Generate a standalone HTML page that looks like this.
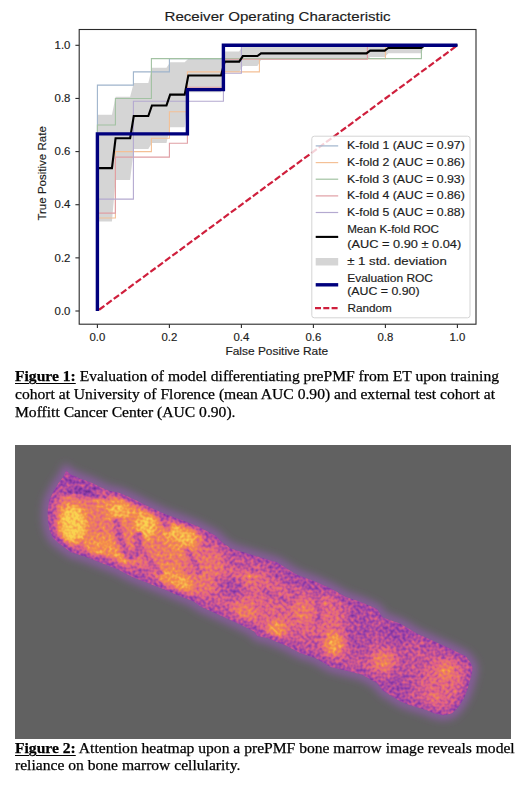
<!DOCTYPE html>
<html><head><meta charset="utf-8">
<style>
html,body{margin:0;padding:0;background:#fff;}
body{width:520px;height:785px;position:relative;overflow:hidden;}
.t{font-family:"Liberation Sans",sans-serif;font-size:10.2px;fill:#1c1c1c;stroke:#1c1c1c;stroke-width:0.15px;}
.cap{position:absolute;left:15px;font-family:"Liberation Serif",serif;font-size:14.5px;color:#000;white-space:nowrap;line-height:1;transform:scaleX(1.075);-webkit-text-stroke:0.25px #000;transform-origin:0 0;}
.cap b{text-decoration:underline;text-decoration-thickness:1px;text-underline-offset:2px;}
#hm{position:absolute;left:15px;top:445.3px;width:496px;height:293.4px;background:#616161;overflow:hidden;}
</style></head><body>
<svg width="520" height="365" style="position:absolute;left:0;top:0">
<polygon points="97.40,114.76 101.04,114.76 104.67,114.76 108.31,114.76 111.95,114.76 115.58,96.71 119.22,96.71 122.85,96.71 126.49,96.71 130.13,96.71 133.76,83.09 137.40,83.09 141.04,83.09 144.67,83.09 148.31,83.09 151.95,67.76 155.58,67.76 159.22,67.76 162.85,67.76 166.49,67.76 170.13,62.13 173.76,62.13 177.40,62.13 181.04,62.13 184.67,62.13 188.31,58.86 191.95,58.86 195.58,58.86 199.22,58.86 202.85,58.86 206.49,58.86 210.13,58.86 213.76,58.86 217.40,58.86 221.04,58.86 224.67,51.45 228.31,51.45 231.95,51.45 235.58,51.45 239.22,51.45 242.85,46.09 246.49,46.09 250.13,46.09 253.76,46.09 257.40,46.09 261.04,46.78 264.67,46.78 268.31,46.78 271.95,46.78 275.58,46.78 279.22,46.78 282.85,46.78 286.49,46.78 290.13,46.78 293.76,46.78 297.40,46.78 301.04,46.78 304.67,46.78 308.31,46.78 311.95,46.78 315.58,46.78 319.22,46.78 322.85,46.78 326.49,46.78 330.13,46.78 333.76,46.78 337.40,46.78 341.04,46.78 344.67,46.78 348.31,46.78 351.95,46.78 355.58,46.78 359.22,46.78 362.85,46.78 366.49,46.78 370.13,45.30 373.76,45.30 377.40,45.30 381.04,45.30 384.67,45.30 388.31,45.30 391.95,45.30 395.58,45.30 399.22,45.30 402.85,45.30 406.49,45.30 410.13,45.30 413.76,45.30 417.40,45.30 421.04,45.30 424.67,45.30 428.31,45.30 431.95,45.30 435.58,45.30 439.22,45.30 442.85,45.30 446.49,45.30 450.13,45.30 453.76,45.30 457.40,45.30 457.40,45.30 453.76,45.30 450.13,45.30 446.49,45.30 442.85,45.30 439.22,45.30 435.58,45.30 431.95,45.30 428.31,45.30 424.67,45.30 421.04,53.27 417.40,53.27 413.76,53.27 410.13,53.27 406.49,53.27 402.85,53.27 399.22,53.27 395.58,53.27 391.95,53.27 388.31,53.27 384.67,57.12 381.04,57.12 377.40,57.12 373.76,57.12 370.13,57.12 366.49,60.04 362.85,60.04 359.22,60.04 355.58,60.04 351.95,60.04 348.31,60.04 344.67,60.04 341.04,60.04 337.40,60.04 333.76,60.04 330.13,60.04 326.49,60.04 322.85,60.04 319.22,60.04 315.58,60.04 311.95,60.04 308.31,60.04 304.67,60.04 301.04,60.04 297.40,60.04 293.76,60.04 290.13,60.04 286.49,60.04 282.85,60.04 279.22,60.04 275.58,60.04 271.95,60.04 268.31,60.04 264.67,60.04 261.04,60.04 257.40,66.05 253.76,66.05 250.13,66.05 246.49,66.05 242.85,66.05 239.22,71.88 235.58,71.88 231.95,71.88 228.31,71.88 224.67,71.88 221.04,92.15 217.40,92.15 213.76,92.15 210.13,92.15 206.49,92.15 202.85,92.15 199.22,92.15 195.58,92.15 191.95,92.15 188.31,92.15 184.67,127.20 181.04,127.20 177.40,127.20 173.76,127.20 170.13,127.20 166.49,143.10 162.85,143.10 159.22,143.10 155.58,143.10 151.95,143.10 148.31,149.03 144.67,149.03 141.04,149.03 137.40,149.03 133.76,149.03 130.13,179.88 126.49,179.88 122.85,179.88 119.22,179.88 115.58,179.88 111.95,221.40 108.31,221.40 104.67,221.40 101.04,221.40 97.40,221.40" fill="#d5d5d5"/>
<polyline points="97.40,311.00 97.40,85.16 133.40,85.16 133.40,71.87 169.40,71.87 169.40,58.59 223.40,58.59 223.40,45.30 457.40,45.30" fill="none" stroke="#9fb4cc" stroke-width="1.1"/>
<polyline points="97.40,311.00 97.40,218.00 115.40,218.00 115.40,151.58 151.40,151.58 151.40,138.29 169.40,138.29 169.40,111.73 187.40,111.73 187.40,71.87 259.40,71.87 259.40,58.59 385.40,58.59 385.40,45.30 457.40,45.30" fill="none" stroke="#f4c096" stroke-width="1.1"/>
<polyline points="97.40,311.00 97.40,125.01 115.40,125.01 115.40,98.44 151.40,98.44 151.40,58.59 421.40,58.59 421.40,45.30 457.40,45.30" fill="none" stroke="#a2c2a2" stroke-width="1.1"/>
<polyline points="97.40,311.00 97.40,213.11 115.40,213.11 115.40,157.17 169.40,157.17 169.40,143.19 187.40,143.19 187.40,87.25 223.40,87.25 223.40,59.28 367.40,59.28 367.40,45.30 457.40,45.30" fill="none" stroke="#e09ea4" stroke-width="1.1"/>
<polyline points="97.40,311.00 97.40,199.13 133.40,199.13 133.40,101.24 223.40,101.24 223.40,73.27 241.40,73.27 241.40,45.30 457.40,45.30" fill="none" stroke="#b4a9d0" stroke-width="1.1"/>
<line x1="97.4" y1="311.0" x2="457.4" y2="45.30000000000001" stroke="#cf1f3c" stroke-width="2.2" stroke-dasharray="6.6 2.5" stroke-dashoffset="7.0"/>
<polyline points="97.40,168.08 101.04,168.08 104.67,168.08 108.31,168.08 111.95,168.08 115.58,138.29 119.22,138.29 122.85,138.29 126.49,138.29 130.13,138.29 133.76,116.06 137.40,116.06 141.04,116.06 144.67,116.06 148.31,116.06 151.95,105.43 155.58,105.43 159.22,105.43 162.85,105.43 166.49,105.43 170.13,94.66 173.76,94.66 177.40,94.66 181.04,94.66 184.67,94.66 188.31,75.51 191.95,75.51 195.58,75.51 199.22,75.51 202.85,75.51 206.49,75.51 210.13,75.51 213.76,75.51 217.40,75.51 221.04,75.51 224.67,61.66 228.31,61.66 231.95,61.66 235.58,61.66 239.22,61.66 242.85,56.07 246.49,56.07 250.13,56.07 253.76,56.07 257.40,56.07 261.04,53.41 264.67,53.41 268.31,53.41 271.95,53.41 275.58,53.41 279.22,53.41 282.85,53.41 286.49,53.41 290.13,53.41 293.76,53.41 297.40,53.41 301.04,53.41 304.67,53.41 308.31,53.41 311.95,53.41 315.58,53.41 319.22,53.41 322.85,53.41 326.49,53.41 330.13,53.41 333.76,53.41 337.40,53.41 341.04,53.41 344.67,53.41 348.31,53.41 351.95,53.41 355.58,53.41 359.22,53.41 362.85,53.41 366.49,53.41 370.13,50.61 373.76,50.61 377.40,50.61 381.04,50.61 384.67,50.61 388.31,47.96 391.95,47.96 395.58,47.96 399.22,47.96 402.85,47.96 406.49,47.96 410.13,47.96 413.76,47.96 417.40,47.96 421.04,47.96 424.67,45.30 428.31,45.30 431.95,45.30 435.58,45.30 439.22,45.30 442.85,45.30 446.49,45.30 450.13,45.30 453.76,45.30 457.40,45.30" fill="none" stroke="#000" stroke-width="2.1" stroke-linejoin="miter"/>
<polyline points="97.40,311.00 97.40,133.87 187.40,133.87 187.40,89.58 223.40,89.58 223.40,45.30 457.40,45.30" fill="none" stroke="#00007d" stroke-width="3.4" stroke-linejoin="miter"/>
<rect x="79.2" y="29.5" width="396.8" height="294.7" fill="none" stroke="#2a2a2a" stroke-width="1.1"/>
<line x1="75.4" y1="311.00" x2="79.2" y2="311.00" stroke="#2a2a2a" stroke-width="1.1"/>
<line x1="97.40" y1="324.2" x2="97.40" y2="328.0" stroke="#2a2a2a" stroke-width="1.1"/>
<text x="54.60" y="314.70" textLength="15.8" lengthAdjust="spacingAndGlyphs" class="t">0.0</text>
<text x="89.50" y="340.80" textLength="15.8" lengthAdjust="spacingAndGlyphs" class="t">0.0</text>
<line x1="75.4" y1="257.86" x2="79.2" y2="257.86" stroke="#2a2a2a" stroke-width="1.1"/>
<line x1="169.40" y1="324.2" x2="169.40" y2="328.0" stroke="#2a2a2a" stroke-width="1.1"/>
<text x="54.60" y="261.56" textLength="15.8" lengthAdjust="spacingAndGlyphs" class="t">0.2</text>
<text x="161.50" y="340.80" textLength="15.8" lengthAdjust="spacingAndGlyphs" class="t">0.2</text>
<line x1="75.4" y1="204.72" x2="79.2" y2="204.72" stroke="#2a2a2a" stroke-width="1.1"/>
<line x1="241.40" y1="324.2" x2="241.40" y2="328.0" stroke="#2a2a2a" stroke-width="1.1"/>
<text x="54.60" y="208.42" textLength="15.8" lengthAdjust="spacingAndGlyphs" class="t">0.4</text>
<text x="233.50" y="340.80" textLength="15.8" lengthAdjust="spacingAndGlyphs" class="t">0.4</text>
<line x1="75.4" y1="151.58" x2="79.2" y2="151.58" stroke="#2a2a2a" stroke-width="1.1"/>
<line x1="313.40" y1="324.2" x2="313.40" y2="328.0" stroke="#2a2a2a" stroke-width="1.1"/>
<text x="54.60" y="155.28" textLength="15.8" lengthAdjust="spacingAndGlyphs" class="t">0.6</text>
<text x="305.50" y="340.80" textLength="15.8" lengthAdjust="spacingAndGlyphs" class="t">0.6</text>
<line x1="75.4" y1="98.44" x2="79.2" y2="98.44" stroke="#2a2a2a" stroke-width="1.1"/>
<line x1="385.40" y1="324.2" x2="385.40" y2="328.0" stroke="#2a2a2a" stroke-width="1.1"/>
<text x="54.60" y="102.14" textLength="15.8" lengthAdjust="spacingAndGlyphs" class="t">0.8</text>
<text x="377.50" y="340.80" textLength="15.8" lengthAdjust="spacingAndGlyphs" class="t">0.8</text>
<line x1="75.4" y1="45.30" x2="79.2" y2="45.30" stroke="#2a2a2a" stroke-width="1.1"/>
<line x1="457.40" y1="324.2" x2="457.40" y2="328.0" stroke="#2a2a2a" stroke-width="1.1"/>
<text x="54.60" y="49.00" textLength="15.8" lengthAdjust="spacingAndGlyphs" class="t">1.0</text>
<text x="449.50" y="340.80" textLength="15.8" lengthAdjust="spacingAndGlyphs" class="t">1.0</text>
<rect x="311.8" y="136.2" width="158.2" height="181.60000000000002" rx="2.5" fill="#fff" fill-opacity="0.8" stroke="#d4d4d4" stroke-width="1"/>
<line x1="315.7" y1="145.9" x2="338.2" y2="145.9" stroke="#9fb4cc" stroke-width="1.2"/>
<text x="347.0" y="149.3" textLength="117.8" lengthAdjust="spacingAndGlyphs" class="t">K-fold 1 (AUC = 0.97)</text>
<line x1="315.7" y1="162.6" x2="338.2" y2="162.6" stroke="#f4c096" stroke-width="1.2"/>
<text x="347.0" y="166.0" textLength="117.8" lengthAdjust="spacingAndGlyphs" class="t">K-fold 2 (AUC = 0.86)</text>
<line x1="315.7" y1="179.2" x2="338.2" y2="179.2" stroke="#a2c2a2" stroke-width="1.2"/>
<text x="347.0" y="182.7" textLength="117.8" lengthAdjust="spacingAndGlyphs" class="t">K-fold 3 (AUC = 0.93)</text>
<line x1="315.7" y1="195.9" x2="338.2" y2="195.9" stroke="#e09ea4" stroke-width="1.2"/>
<text x="347.0" y="199.4" textLength="117.8" lengthAdjust="spacingAndGlyphs" class="t">K-fold 4 (AUC = 0.86)</text>
<line x1="315.7" y1="212.5" x2="338.2" y2="212.5" stroke="#b4a9d0" stroke-width="1.2"/>
<text x="347.0" y="216.1" textLength="117.8" lengthAdjust="spacingAndGlyphs" class="t">K-fold 5 (AUC = 0.88)</text>
<line x1="315.7" y1="236.9" x2="338.2" y2="236.9" stroke="#000" stroke-width="2.1"/>
<text x="347.2" y="232.5" textLength="91.8" lengthAdjust="spacingAndGlyphs" class="t">Mean K-fold ROC</text>
<text x="347.2" y="247.7" textLength="114" lengthAdjust="spacingAndGlyphs" class="t">(AUC = 0.90 ± 0.04)</text>
<rect x="315.7" y="258" width="22.5" height="7.5" fill="#d5d5d5"/>
<text x="347.2" y="265.4" textLength="99.6" lengthAdjust="spacingAndGlyphs" class="t">± 1 std. deviation</text>
<line x1="315.7" y1="284.8" x2="338.2" y2="284.8" stroke="#00007d" stroke-width="3.4"/>
<text x="347.2" y="282.4" textLength="85.8" lengthAdjust="spacingAndGlyphs" class="t">Evaluation ROC</text>
<text x="347.2" y="294.5" textLength="72.3" lengthAdjust="spacingAndGlyphs" class="t">(AUC = 0.90)</text>
<line x1="315.0" y1="308.1" x2="337.6" y2="308.1" stroke="#cf1f3c" stroke-width="2.2" stroke-dasharray="6.0 2.3"/>
<text x="347.6" y="311.8" textLength="44.3" lengthAdjust="spacingAndGlyphs" class="t">Random</text>
<text x="164.6" y="21.3" textLength="226" lengthAdjust="spacingAndGlyphs" class="t" style="font-size:12.4px">Receiver Operating Characteristic</text>
<text x="225.4" y="355.3" textLength="102.8" lengthAdjust="spacingAndGlyphs" class="t">False Positive Rate</text>
<text transform="translate(46,220.6) rotate(-90)" x="0" y="0" textLength="94.4" lengthAdjust="spacingAndGlyphs" class="t">True Positive Rate</text>
</svg>
<div class="cap" id="c1" style="top:369.3px"><b>Figure 1:</b> Evaluation of model differentiating prePMF from ET upon training</div>
<div class="cap" id="c2" style="top:386.9px">cohort at University of Florence (mean AUC 0.90) and external test cohort at</div>
<div class="cap" id="c3" style="top:405.2px">Moffitt Cancer Center (AUC 0.90).</div>
<div id="hm">
<svg width="497" height="293">
<defs>
<filter id="glow" x="-20%" y="-20%" width="140%" height="140%"><feGaussianBlur stdDeviation="4"/></filter>
<filter id="bl" x="-50%" y="-50%" width="200%" height="200%"><feGaussianBlur stdDeviation="3.5"/></filter>
<filter id="glow2" x="-20%" y="-20%" width="140%" height="140%"><feGaussianBlur stdDeviation="2.2"/></filter>
<filter id="glow3" x="-20%" y="-20%" width="140%" height="140%"><feGaussianBlur stdDeviation="1.6"/></filter>
<filter id="noise" x="0" y="0" width="100%" height="100%">
<feTurbulence type="fractalNoise" baseFrequency="0.55" numOctaves="2" seed="3"/>
<feColorMatrix type="matrix" values="0 0 0 0 1  0 0 0 0 0.85  0 0 0 0 0.6  0 0 0 -1.6 1.05"/>
</filter>
<filter id="heat" color-interpolation-filters="sRGB" filterUnits="userSpaceOnUse" x="0" y="0" width="497" height="293">
<feTurbulence type="fractalNoise" baseFrequency="0.33" numOctaves="1" seed="7" result="n"/>
<feColorMatrix in="n" type="matrix" values="1 0 0 0 0  1 0 0 0 0  1 0 0 0 0  0 0 0 0 1" result="ng"/>
<feComposite in="SourceGraphic" in2="ng" operator="arithmetic" k1="0" k2="1" k3="0.62" k4="-0.28" result="sum0"/>
<feGaussianBlur in="sum0" stdDeviation="0.5" result="sum"/>
<feComponentTransfer in="sum">
<feFuncR type="table" tableValues="0.38 0.59 0.88 0.96 0.98"/>
<feFuncG type="table" tableValues="0.16 0.25 0.38 0.56 0.83"/>
<feFuncB type="table" tableValues="0.55 0.67 0.53 0.29 0.31"/>
<feFuncA type="linear" slope="0" intercept="1"/>
</feComponentTransfer>
</filter>
<clipPath id="cp"><polygon points="51.2,25.8 55.8,29.6 65.0,33.5 77.3,38.0 86.5,42.7 94.2,45.8 105.0,48.0 120.4,55.0 135.8,62.7 151.2,69.6 166.5,75.0 182.0,81.0 200.4,90.4 208.0,98.0 215.8,103.5 231.0,108.0 246.5,112.7 262.0,117.3 279.0,128.0 285.0,131.0 300.4,136.5 315.8,143.5 331.0,152.0 346.5,157.3 362.0,164.0 367.7,172.4 385.0,178.5 402.3,188.8 419.6,196.6 436.9,204.4 450.7,211.3 456.0,218.3 457.7,223.4 456.0,232.0 452.5,244.2 449.0,252.9 443.8,261.5 437.0,268.4 428.3,270.2 419.6,268.4 411.0,265.0 402.3,262.4 393.7,259.8 385.0,256.3 367.7,245.4 362.0,238.0 346.5,229.6 331.0,225.8 315.8,222.0 300.4,213.0 285.0,208.0 271.5,200.8 262.0,197.0 252.3,193.0 242.7,191.2 238.8,186.3 223.5,178.7 204.2,170.0 185.0,161.3 178.8,156.5 163.5,150.4 148.0,144.0 132.7,138.0 117.3,132.0 102.0,124.0 86.5,118.0 71.0,112.0 55.8,107.3 43.5,98.0 38.0,93.0 34.5,85.0 32.7,75.0 32.7,65.8 34.2,55.0 38.8,45.8 43.5,38.0 48.0,32.0"/></clipPath>
</defs>
<polygon points="51.2,25.8 55.8,29.6 65.0,33.5 77.3,38.0 86.5,42.7 94.2,45.8 105.0,48.0 120.4,55.0 135.8,62.7 151.2,69.6 166.5,75.0 182.0,81.0 200.4,90.4 208.0,98.0 215.8,103.5 231.0,108.0 246.5,112.7 262.0,117.3 279.0,128.0 285.0,131.0 300.4,136.5 315.8,143.5 331.0,152.0 346.5,157.3 362.0,164.0 367.7,172.4 385.0,178.5 402.3,188.8 419.6,196.6 436.9,204.4 450.7,211.3 456.0,218.3 457.7,223.4 456.0,232.0 452.5,244.2 449.0,252.9 443.8,261.5 437.0,268.4 428.3,270.2 419.6,268.4 411.0,265.0 402.3,262.4 393.7,259.8 385.0,256.3 367.7,245.4 362.0,238.0 346.5,229.6 331.0,225.8 315.8,222.0 300.4,213.0 285.0,208.0 271.5,200.8 262.0,197.0 252.3,193.0 242.7,191.2 238.8,186.3 223.5,178.7 204.2,170.0 185.0,161.3 178.8,156.5 163.5,150.4 148.0,144.0 132.7,138.0 117.3,132.0 102.0,124.0 86.5,118.0 71.0,112.0 55.8,107.3 43.5,98.0 38.0,93.0 34.5,85.0 32.7,75.0 32.7,65.8 34.2,55.0 38.8,45.8 43.5,38.0 48.0,32.0" fill="none" stroke="#9a5ab8" stroke-width="9" stroke-opacity="0.8" filter="url(#glow)"/>
<g clip-path="url(#cp)">
<g filter="url(#heat)">
<polygon points="51.2,25.8 55.8,29.6 65.0,33.5 77.3,38.0 86.5,42.7 94.2,45.8 105.0,48.0 120.4,55.0 135.8,62.7 151.2,69.6 166.5,75.0 182.0,81.0 200.4,90.4 208.0,98.0 215.8,103.5 231.0,108.0 246.5,112.7 262.0,117.3 279.0,128.0 285.0,131.0 300.4,136.5 315.8,143.5 331.0,152.0 346.5,157.3 362.0,164.0 367.7,172.4 385.0,178.5 402.3,188.8 419.6,196.6 436.9,204.4 450.7,211.3 456.0,218.3 457.7,223.4 456.0,232.0 452.5,244.2 449.0,252.9 443.8,261.5 437.0,268.4 428.3,270.2 419.6,268.4 411.0,265.0 402.3,262.4 393.7,259.8 385.0,256.3 367.7,245.4 362.0,238.0 346.5,229.6 331.0,225.8 315.8,222.0 300.4,213.0 285.0,208.0 271.5,200.8 262.0,197.0 252.3,193.0 242.7,191.2 238.8,186.3 223.5,178.7 204.2,170.0 185.0,161.3 178.8,156.5 163.5,150.4 148.0,144.0 132.7,138.0 117.3,132.0 102.0,124.0 86.5,118.0 71.0,112.0 55.8,107.3 43.5,98.0 38.0,93.0 34.5,85.0 32.7,75.0 32.7,65.8 34.2,55.0 38.8,45.8 43.5,38.0 48.0,32.0" fill="rgb(97,97,97)"/>
<g filter="url(#bl)">
<ellipse cx="255" cy="153" rx="75" ry="26" fill="rgb(120,120,120)" transform="rotate(22 255 153)"/>
<ellipse cx="385" cy="217" rx="55" ry="28" fill="rgb(97,97,97)" transform="rotate(22 385 217)"/>
<ellipse cx="113" cy="85" rx="75" ry="30" fill="rgb(153,153,153)" transform="rotate(22 113 85)"/>
<ellipse cx="65" cy="41" rx="24" ry="10" fill="rgb(46,46,46)" transform="rotate(22 65 41)"/>
<ellipse cx="110" cy="62" rx="40" ry="10" fill="rgb(178,178,178)" transform="rotate(22 110 62)"/>
<ellipse cx="93" cy="107" rx="26" ry="14" fill="rgb(184,184,184)" transform="rotate(22 93 107)"/>
<ellipse cx="161" cy="135" rx="22" ry="10" fill="rgb(194,194,194)" transform="rotate(22 161 135)"/>
<ellipse cx="167" cy="92" rx="20" ry="18" fill="rgb(178,178,178)" transform="rotate(22 167 92)"/>
<ellipse cx="57" cy="80" rx="14" ry="20" fill="rgb(237,237,237)" transform="rotate(0 57 80)"/>
<ellipse cx="103" cy="66" rx="9" ry="10" fill="rgb(219,219,219)" transform="rotate(0 103 66)"/>
<ellipse cx="131" cy="81" rx="10" ry="13" fill="rgb(230,230,230)" transform="rotate(0 131 81)"/>
<ellipse cx="157" cy="86" rx="7" ry="7" fill="rgb(224,224,224)" transform="rotate(0 157 86)"/>
<ellipse cx="171" cy="92" rx="8" ry="10" fill="rgb(219,219,219)" transform="rotate(0 171 92)"/>
<ellipse cx="172" cy="140" rx="8" ry="8" fill="rgb(219,219,219)" transform="rotate(0 172 140)"/>
<ellipse cx="191" cy="127" rx="15" ry="26" fill="rgb(143,143,143)" transform="rotate(22 191 127)"/>
<ellipse cx="217" cy="143" rx="14" ry="11" fill="rgb(76,76,76)" transform="rotate(22 217 143)"/>
<ellipse cx="230" cy="167" rx="14" ry="8" fill="rgb(158,158,158)" transform="rotate(22 230 167)"/>
<ellipse cx="237" cy="115" rx="24" ry="7" fill="rgb(92,92,92)" transform="rotate(22 237 115)"/>
<ellipse cx="236" cy="131" rx="9" ry="8" fill="rgb(148,148,148)" transform="rotate(0 236 131)"/>
<ellipse cx="261" cy="185" rx="10" ry="9" fill="rgb(189,189,189)" transform="rotate(0 261 185)"/>
<ellipse cx="291" cy="163" rx="28" ry="24" fill="rgb(122,122,122)" transform="rotate(22 291 163)"/>
<ellipse cx="288" cy="167" rx="8" ry="8" fill="rgb(163,163,163)" transform="rotate(0 288 167)"/>
<ellipse cx="313" cy="151" rx="8" ry="8" fill="rgb(148,148,148)" transform="rotate(0 313 151)"/>
<ellipse cx="285" cy="139" rx="38" ry="5" fill="rgb(66,66,66)" transform="rotate(22 285 139)"/>
<ellipse cx="318" cy="175" rx="12" ry="13" fill="rgb(128,128,128)" transform="rotate(0 318 175)"/>
<ellipse cx="319" cy="199" rx="10" ry="11" fill="rgb(199,199,199)" transform="rotate(0 319 199)"/>
<ellipse cx="345" cy="182" rx="14" ry="28" fill="rgb(76,76,76)" transform="rotate(0 345 182)"/>
<ellipse cx="368" cy="216" rx="11" ry="10" fill="rgb(163,163,163)" transform="rotate(0 368 216)"/>
<ellipse cx="381" cy="187" rx="18" ry="13" fill="rgb(66,66,66)" transform="rotate(22 381 187)"/>
<ellipse cx="381" cy="243" rx="14" ry="15" fill="rgb(71,71,71)" transform="rotate(22 381 243)"/>
<ellipse cx="428" cy="235" rx="20" ry="24" fill="rgb(122,122,122)" transform="rotate(22 428 235)"/>
<ellipse cx="431" cy="227" rx="8" ry="8" fill="rgb(168,168,168)" transform="rotate(0 431 227)"/>
<ellipse cx="420" cy="255" rx="7" ry="6" fill="rgb(143,143,143)" transform="rotate(0 420 255)"/>
<ellipse cx="65" cy="40" rx="20" ry="8" fill="rgb(36,36,36)" transform="rotate(25 65 40)"/>
</g>
<g transform="translate(-15,-445)" fill="none" stroke="rgb(85,85,85)" stroke-width="5" filter="url(#glow3)"><path d="M84,497 C92,493 100,494 110,499"/><path d="M140,548 C146,556 152,566 162,574"/><path d="M60,490 C70,482 80,484 90,488"/><path d="M158,513 C163,520 166,526 170,530"/><path d="M215,578 C222,585 226,592 232,596"/><path d="M226,560 C236,566 246,566 258,572"/><path d="M262,590 C270,596 282,598 292,604"/><path d="M350,616 C356,628 360,640 366,650"/><path d="M395,640 C402,650 404,664 410,676"/><path d="M96,560 C104,556 112,560 120,566"/><path d="M185,548 C192,556 196,566 200,574"/><path d="M280,572 C286,580 290,590 296,598"/><path d="M312,584 C318,596 320,610 318,624"/><path d="M420,645 C428,650 436,652 446,656"/><path d="M116,518 C118,534 122,550 130,556 C137,559 140,546 138,532" stroke-width="8" stroke="rgb(92,92,92)"/><path d="M60,482 C70,476 84,480 100,488" stroke-width="5" stroke="rgb(31,31,31)"/><path d="M64,494 C74,490 86,492 98,497" stroke-width="3" stroke="rgb(26,26,26)"/></g>
<polygon points="51.2,25.8 55.8,29.6 65.0,33.5 77.3,38.0 86.5,42.7 94.2,45.8 105.0,48.0 120.4,55.0 135.8,62.7 151.2,69.6 166.5,75.0 182.0,81.0 200.4,90.4 208.0,98.0 215.8,103.5 231.0,108.0 246.5,112.7 262.0,117.3 279.0,128.0 285.0,131.0 300.4,136.5 315.8,143.5 331.0,152.0 346.5,157.3 362.0,164.0 367.7,172.4 385.0,178.5 402.3,188.8 419.6,196.6 436.9,204.4 450.7,211.3 456.0,218.3 457.7,223.4 456.0,232.0 452.5,244.2 449.0,252.9 443.8,261.5 437.0,268.4 428.3,270.2 419.6,268.4 411.0,265.0 402.3,262.4 393.7,259.8 385.0,256.3 367.7,245.4 362.0,238.0 346.5,229.6 331.0,225.8 315.8,222.0 300.4,213.0 285.0,208.0 271.5,200.8 262.0,197.0 252.3,193.0 242.7,191.2 238.8,186.3 223.5,178.7 204.2,170.0 185.0,161.3 178.8,156.5 163.5,150.4 148.0,144.0 132.7,138.0 117.3,132.0 102.0,124.0 86.5,118.0 71.0,112.0 55.8,107.3 43.5,98.0 38.0,93.0 34.5,85.0 32.7,75.0 32.7,65.8 34.2,55.0 38.8,45.8 43.5,38.0 48.0,32.0" fill="none" stroke="rgb(72,72,72)" stroke-width="9" filter="url(#glow2)"/>
</g>
</g>
</svg>
</div>
<div class="cap" id="c4" style="top:741.4px"><b>Figure 2:</b> Attention heatmap upon a prePMF bone marrow image reveals model</div>
<div class="cap" id="c5" style="top:758.4px">reliance on bone marrow cellularity.</div>
</body></html>
